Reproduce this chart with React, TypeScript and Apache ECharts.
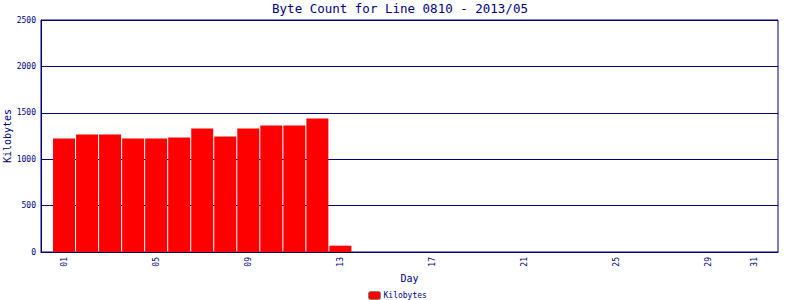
import React, { useEffect, useRef } from "react";
import * as echarts from "echarts";

const TITLE = "Byte Count for Line 0810 - 2013/05";
const SERIES_NAME = "Kilobytes";
const days = [1, 2, 3, 4, 5, 6, 7, 8, 9, 10, 11, 12, 13];
const kilobytes = [1223, 1266, 1266, 1223, 1223, 1234, 1331, 1245, 1331, 1363, 1363, 1439, 68];
const xTickDays = [1, 5, 9, 13, 17, 21, 25, 29, 31];
const yTicks = [0, 500, 1000, 1500, 2000, 2500];

const NAVY = "#000080";
const MONO = "'DejaVu Sans Mono', monospace";

export default function App() {
  const ref = useRef<HTMLDivElement>(null);
  useEffect(() => {
    if (!ref.current) return;
    const chart = echarts.init(ref.current, null, { renderer: "svg" });
    chart.setOption({
      animation: false,
      backgroundColor: "#ffffff",
      title: {
        text: TITLE,
        left: "center",
        top: -3,
        textStyle: { color: NAVY, fontFamily: MONO, fontSize: 12.5, fontWeight: "normal" },
      },
      legend: {
        data: [SERIES_NAME],
        left: 368,
        top: 291,
        itemWidth: 12,
        itemHeight: 8,
        itemGap: 4,
        padding: 0,
        textStyle: { color: NAVY, fontFamily: MONO, fontSize: 8, padding: [0, 0, 0, -2] },
        itemStyle: { borderColor: "#808080", borderWidth: 1 },
      },
      grid: {
        left: 41,
        right: 22,
        top: 20,
        bottom: 48,
        outerBoundsMode: "none",
        containLabel: false,
        show: true,
        borderColor: NAVY,
        borderWidth: 1,
      },
      xAxis: {
        type: "value",
        min: 0,
        max: 32,
        name: "Day",
        nameLocation: "middle",
        nameGap: 21,
        nameMoveOverlap: false,
        nameTextStyle: { color: NAVY, fontFamily: MONO, fontSize: 10 },
        axisLine: { show: true, lineStyle: { color: NAVY } },
        axisTick: { show: false },
        splitLine: { show: false },
        axisLabel: {
          customValues: xTickDays,
          rotate: 90,
          margin: 5,
          color: NAVY,
          fontFamily: MONO,
          fontSize: 8,
          formatter: (v: number) => String(v).padStart(2, "0"),
        },
      },
      yAxis: {
        type: "value",
        min: 0,
        max: 2500,
        interval: 500,
        name: SERIES_NAME,
        nameLocation: "middle",
        nameGap: 29,
        nameMoveOverlap: false,
        nameTextStyle: { color: NAVY, fontFamily: MONO, fontSize: 10 },
        axisLine: { show: true, lineStyle: { color: NAVY } },
        axisTick: { show: false },
        splitLine: { show: true, lineStyle: { color: NAVY, width: 1 } },
        axisLabel: {
          customValues: yTicks,
          margin: 5,
          color: NAVY,
          fontFamily: MONO,
          fontSize: 8,
          formatter: (v: number) => String(v),
        },
      },
      series: [
        {
          name: SERIES_NAME,
          type: "bar",
          barWidth: 22,
          itemStyle: { color: "#ff0000" },
          data: days.map((d, i) => [d, kilobytes[i]]),
        },
      ],
    });
    return () => chart.dispose();
  }, []);
  return <div ref={ref} style={{ width: 800, height: 300, position: "absolute", left: 0, top: 0 }} />;
}
